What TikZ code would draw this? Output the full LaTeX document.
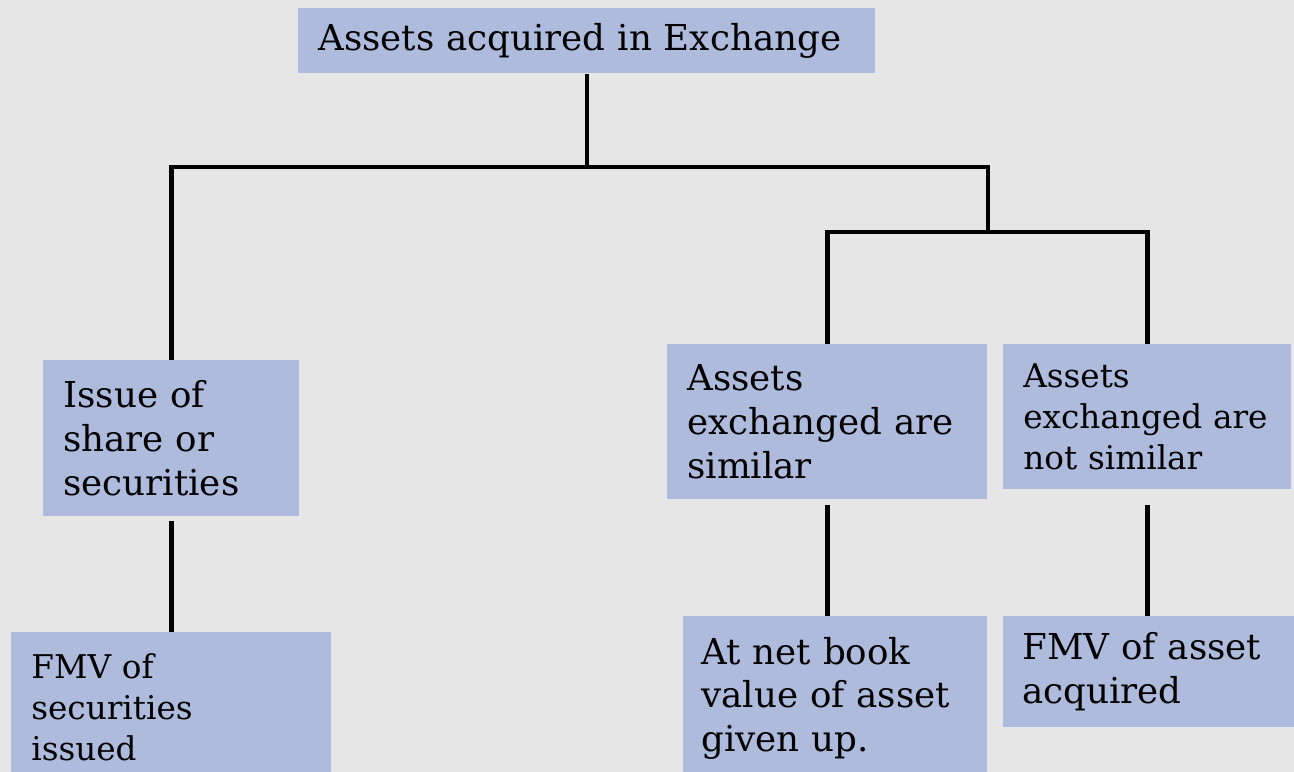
\documentclass[tikz,border=0pt]{standalone}
\usepackage{fontspec}
\setmainfont{DejaVu Serif}
\usepackage{tikz}
\usepackage{xcolor}
\usetikzlibrary{positioning}

\definecolor{bggrey}{HTML}{E6E6E6}
\definecolor{boxblue}{HTML}{AEBBDD}

\begin{document}
\begin{tikzpicture}[
    box/.style={fill=boxblue, anchor=north west, inner xsep=0.4cm, inner ysep=0pt, align=left},
    bigtext/.style={font=\fontsize{20.3}{25}\selectfont},
    smalltext/.style={font=\fontsize{18.6}{23.3}\selectfont},
    link/.style={line width=2.6pt, line join=miter}
]
        \fill[bggrey] (0,0) rectangle (25.88,-15.44);
        \useasboundingbox (0,0) rectangle (25.88,-15.44);
        % top of the tree
        \node[box, bigtext, minimum width=11.54cm, minimum height=1.30cm, text width=10.74cm] (acq) at (5.96,-0.16) {Assets acquired in Exchange};
        % left branch
        \node[box, bigtext, minimum width=5.12cm, minimum height=3.12cm, text width=4.32cm] (issue) at (0.86,-7.20) {Issue of\\share or\\securities};
        \node[box, smalltext, minimum width=6.40cm, minimum height=3.00cm, text width=5.60cm] (fmvsec) at (0.22,-12.64) {FMV of\\securities\\issued};
        % right branch
        \node[box, bigtext, minimum width=6.40cm, minimum height=3.10cm, text width=5.60cm] (similar) at (13.34,-6.88) {Assets\\exchanged are\\similar};
        \node[box, smalltext, minimum width=5.76cm, minimum height=2.90cm, text width=4.96cm, inner xsep=0.38cm] (notsim) at (20.06,-6.88) {Assets\\exchanged are\\not similar};
        \node[box, bigtext, minimum width=6.08cm, minimum height=3.28cm, text width=5.36cm, inner xsep=0.36cm] (nbv) at (13.66,-12.32) {At net book\\value of asset\\given up.};
        \node[box, bigtext, minimum width=5.94cm, minimum height=2.22cm, text width=5.18cm, inner xsep=0.38cm] (fmvacq) at (20.06,-12.32) {FMV of asset\\acquired};

        \coordinate (j1) at (acq.south |- 0,-3.34);
        \coordinate (j2) at (19.76,-4.64);
        \draw[link] (acq.south) -- (j1);
        \draw[link] (issue.north) |- (j1) -| (j2);
        \draw[link] (similar.north) |- (j2) -| (notsim.north);
        \draw[link, shorten <=0.08cm] (issue.south) -- (fmvsec.north);
        \draw[link, shorten <=0.1cm] (similar.south) -- (similar.south |- nbv.north);
        \draw[link, shorten <=0.3cm] (notsim.south) -- (notsim.south |- fmvacq.north);
    \end{tikzpicture}
\end{document}
